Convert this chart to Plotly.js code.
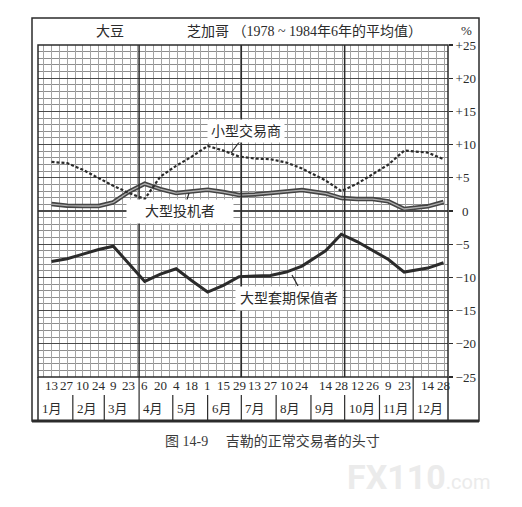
<!DOCTYPE html>
<html><head><meta charset="utf-8">
<script src="https://cdn.plot.ly/plotly-3.0.1.min.js"></script>
<style>html,body{margin:0;padding:0;background:#fff;}#chart{width:522px;height:507px;}</style>
</head><body><div id="chart"></div>
<script>
// ---- data ----
const dates = ['1983-01-13','1983-01-27','1983-02-10','1983-02-24','1983-03-09','1983-03-23','1983-04-06','1983-04-20','1983-05-04','1983-05-18','1983-06-01','1983-06-15','1983-06-29','1983-07-13','1983-07-27','1983-08-10','1983-08-24','1983-09-14','1983-09-28','1983-10-12','1983-10-26','1983-11-09','1983-11-23','1983-12-14','1983-12-28'];
const dayLabels = ['13','27','10','24','9','23','6','20','4','18','1','15','29','13','27','10','24','14','28','12','26','9','23','14','28'];
const smallTraders = [7.4,7.2,6.2,4.9,3.8,2.7,1.8,5.2,6.8,8.2,9.8,9.1,8.2,7.9,7.8,7.3,6.4,4.6,3.0,4.1,5.6,7.0,9.1,8.8,7.8];
const largeSpeculators = [1.05,0.8,0.75,0.75,1.3,2.9,4.1,3.3,2.7,3.0,3.2,2.85,2.4,2.5,2.7,2.9,3.15,2.65,1.95,1.8,1.8,1.45,0.3,0.7,1.35];
const largeHedgers = [-7.6,-7.2,-6.5,-5.8,-5.3,-8.0,-10.6,-9.5,-8.7,-10.5,-12.2,-11.2,-9.9,-9.8,-9.7,-9.2,-8.3,-6.0,-3.5,-4.6,-5.9,-7.3,-9.2,-8.6,-7.8];
const months = ['1月','2月','3月','4月','5月','6月','7月','8月','9月','10月','11月','12月'];
const monthStarts = ['1983-01-01','1983-02-01','1983-03-01','1983-04-01','1983-05-01','1983-06-01','1983-07-01','1983-08-01','1983-09-01','1983-10-01','1983-11-01','1983-12-01'];
const quarterStarts = ['1983-04-01','1983-07-01','1983-10-01'];
const yTickVals = [25,20,15,10,5,0,-5,-10,-15,-20,-25];
const yTickText = ['+25','+20','+15','+10','+5','\u20020','\u22125','\u221210','\u221215','\u221220','\u221225'];
const seriesNames = ['小型交易商','大型投机者','大型套期保值者'];

// ---- styling helpers ----
const INK = '#2b2b2b';
const SERIF = 'Liberation Serif, Noto Sans CJK SC, serif';
const CJK = 'Liberation Serif, Noto Sans CJK SC, sans-serif';
// plot area in px: x 38..448, y 45..377
const px = v => (v - 38) / 410;
const py = v => (377 - v) / 332;

const traces = [
  {x: dates, y: largeHedgers, type:'scatter', mode:'lines', name: seriesNames[2],
   line:{color: INK, width: 3}},
  {x: dates, y: largeSpeculators, type:'scatter', mode:'lines', name: seriesNames[1],
   line:{color:'#444', width: 4.5}},
  {x: dates, y: largeSpeculators, type:'scatter', mode:'lines', name: seriesNames[1],
   line:{color:'#b0b0b0', width: 1.3}},
  {x: dates, y: smallTraders, type:'scatter', mode:'lines', name: seriesNames[0],
   line:{color: INK, width: 2.2, dash:'3px,2px'}}
];

const shapes = [];
quarterStarts.forEach(d => shapes.push({type:'line', xref:'x', yref:'y', x0:d, x1:d, y0:-25, y1:25, line:{color:INK, width:1.5}}));
shapes.push({type:'rect', xref:'paper', yref:'paper', x0:0, x1:1, y0:0, y1:1, line:{color:INK, width:1.5}});
shapes.push({type:'line', xref:'paper', yref:'paper', x0:0, x1:0, y0:py(421), y1:0, line:{color:INK, width:1.5}});
shapes.push({type:'line', xref:'paper', yref:'paper', x0:1, x1:1, y0:py(421), y1:0, line:{color:INK, width:1.5}});
shapes.push({type:'rect', xref:'paper', yref:'paper', x0:px(32), x1:px(479), y0:py(421), y1:py(18), line:{color:INK, width:1.5}});
shapes.push({type:'line', xref:'paper', yref:'paper', x0:px(32), x1:px(479), y0:py(421), y1:py(421), line:{color:INK, width:3}});
monthStarts.slice(1).forEach(d => {
  const full = (d === '1983-04-01' || d === '1983-12-01');
  shapes.push({type:'line', xref:'x', yref:'paper', x0:d, x1:d, y0:py(421), y1: full ? 0 : py(395), line:{color:INK, width:1.2}});
});
// leader lines
shapes.push({type:'line', xref:'paper', yref:'paper', x0:px(240), y0:py(141), x1:px(231), y1:py(153), line:{color:INK, width:1.2}});
shapes.push({type:'line', xref:'paper', yref:'paper', x0:px(186), y0:py(203), x1:px(189), y1:py(193), line:{color:INK, width:1.2}});
shapes.push({type:'line', xref:'paper', yref:'paper', x0:px(292), y0:py(275), x1:px(298), y1:py(286), line:{color:INK, width:1.2}});

const annotations = [];
const ann = o => annotations.push(Object.assign({xref:'paper', yref:'paper', showarrow:false, xanchor:'center', yanchor:'middle'}, o));
dates.forEach((d,i) => ann({x:d, xref:'x', y:py(386), text:dayLabels[i], font:{family:SERIF, size:13, color:INK}}));
monthStarts.forEach((d,i) => ann({x:d, xref:'x', y:py(408), text:months[i], xanchor:'left', xshift:2, font:{family:CJK, size:13, color:INK}}));
ann({x:px(110), y:py(32), text:'大豆', font:{family:CJK, size:14, color:INK}});
ann({x:px(185), y:py(32), text:'芝加哥 （1978 ~ 1984年6年的平均值）', xanchor:'left', font:{family:CJK, size:14, color:INK}});
ann({x:px(466), y:py(31), text:'%', font:{family:SERIF, size:13, color:INK}});
ann({x:px(246), y:py(131), text:seriesNames[0], bgcolor:'#fff', borderpad:3, font:{family:CJK, size:14, color:INK}});
ann({x:px(180), y:py(211), text:'\u2003'+seriesNames[1]+'\u2003', bgcolor:'#fff', borderpad:4, font:{family:CJK, size:14, color:INK}});
ann({x:px(289), y:py(298), text:seriesNames[2], bgcolor:'#fff', borderpad:4, font:{family:CJK, size:14, color:INK}});
ann({x:px(272), y:py(441), text:'图 14-9　 吉勒的正常交易者的头寸', font:{family:CJK, size:14, color:'#3a3a3a'}});
ann({x:px(418), y:py(477), text:'<b>FX110</b><span style="font-size:20px">.com</span>', font:{family:'Roboto, DejaVu Sans, sans-serif', size:34, color:'#ebebeb'}});

const layout = {
  width:522, height:507,
  margin:{l:38, r:74, t:45, b:130, pad:0},
  paper_bgcolor:'#fff', plot_bgcolor:'#fff',
  showlegend:false,
  font:{family:SERIF, size:13, color:INK},
  xaxis:{type:'date', range:['1983-01-01','1984-01-01'], tickmode:'linear', tick0:'1983-01-06', dtick:604800000,
    showticklabels:false, ticks:'', showgrid:true, gridcolor:'#a4a4a4', gridwidth:1, zeroline:false, showline:false, fixedrange:true},
  yaxis:{range:[-25,25], side:'right', tickmode:'array', tickvals:yTickVals, ticktext:yTickText,
    ticks:'outside', ticklen:4, tickcolor:INK, tickwidth:1.2, showgrid:true, gridcolor:'#4a4a4a', gridwidth:1.3,
    zeroline:false, showline:false, tickfont:{family:SERIF, size:13, color:INK}, fixedrange:true,
    minor:{tickmode:'linear', tick0:0, dtick:1, showgrid:true, gridcolor:'#8e8e8e', gridwidth:1, ticks:''}},
  shapes: shapes,
  annotations: annotations
};

Plotly.newPlot('chart', traces, layout, {staticPlot:true, displayModeBar:false});
</script>
</body></html>
